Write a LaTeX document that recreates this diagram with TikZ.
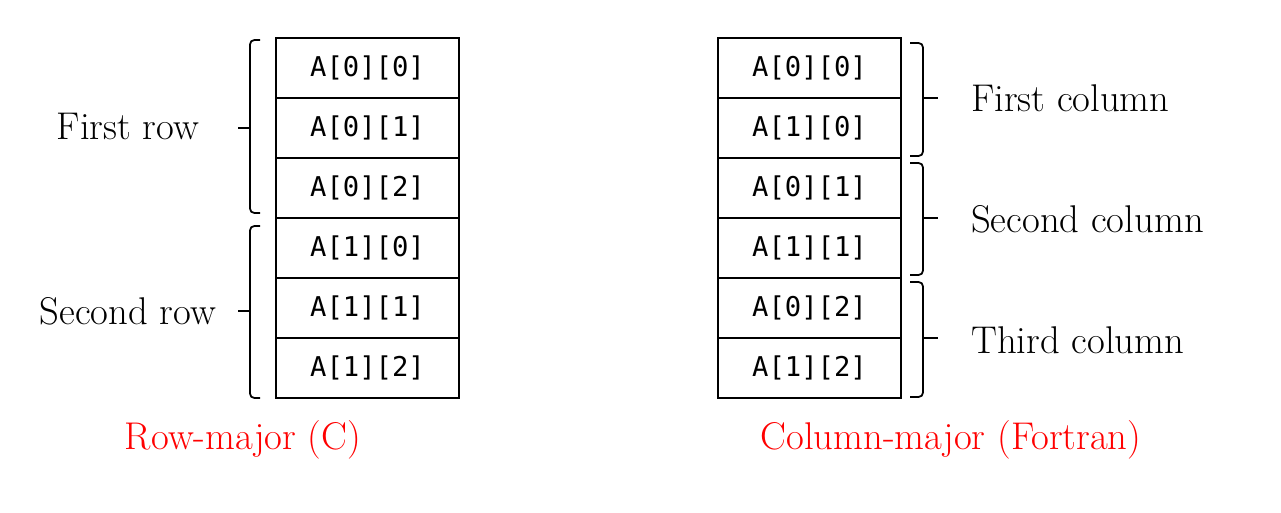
\documentclass[tikz,border=0pt]{standalone}
\usepackage{fontspec}
\newfontfamily\cellfont{DejaVu Sans Mono}
\usetikzlibrary{positioning}

\begin{document}
\begin{tikzpicture}[node distance=0pt,
  cell/.style={draw, line width=1pt, outer sep=0pt, inner sep=0pt, minimum width=3.66cm, minimum height=1.2cm, font=\fontsize{15.5}{18}\selectfont\cellfont},
  lbl/.style={font=\fontsize{22}{26}\selectfont},
  captxt/.style={lbl, text=red},
  brk/.style={draw, line width=1pt, rounded corners=2.5pt}]
\useasboundingbox (0,0) rectangle (25.62,10.24);
% row-major
\node[cell] (r00) at (7.35,8.88) {A[0][0]};
\node[cell, below=of r00] (r01) {A[0][1]};
\node[cell, below=of r01] (r02) {A[0][2]};
\node[cell, below=of r02] (r10) {A[1][0]};
\node[cell, below=of r10] (r11) {A[1][1]};
\node[cell, below=of r11] (r12) {A[1][2]};
\draw[brk] ([xshift=-0.32cm, yshift=-0.04cm]r00.north west) -- ([xshift=-0.52cm, yshift=-0.04cm]r00.north west)
  -- ([xshift=-0.52cm, yshift=0.1cm]r02.south west) -- ([xshift=-0.32cm, yshift=0.1cm]r02.south west);
\draw[brk] ([xshift=-0.52cm]r01.west) -- ([xshift=-0.76cm]r01.west);
\draw[brk] ([xshift=-0.32cm, yshift=-0.16cm]r10.north west) -- ([xshift=-0.52cm, yshift=-0.16cm]r10.north west)
  -- ([xshift=-0.52cm]r12.south west) -- ([xshift=-0.32cm]r12.south west);
\draw[brk] ([xshift=-0.52cm, yshift=-0.06cm]r11.west) -- ([xshift=-0.76cm, yshift=-0.06cm]r11.west);
\node[lbl] (frow) at (2.56,7.72) {First row};
\node[lbl] (srow) at (2.56,4.02) {Second row};
\node[captxt] (rmaj) at (4.86,1.44) {Row-major (C)};
% column-major
\node[cell] (c00) at (16.19,8.88) {A[0][0]};
\node[cell, below=of c00] (c10) {A[1][0]};
\node[cell, below=of c10] (c01) {A[0][1]};
\node[cell, below=of c01] (c11) {A[1][1]};
\node[cell, below=of c11] (c02) {A[0][2]};
\node[cell, below=of c02] (c12) {A[1][2]};
\draw[brk] ([xshift=0.18cm, yshift=-0.1cm]c00.north east) -- ([xshift=0.44cm, yshift=-0.1cm]c00.north east)
  -- ([xshift=0.44cm, yshift=0.04cm]c10.south east) -- ([xshift=0.18cm, yshift=0.04cm]c10.south east);
\draw[brk] ([xshift=0.44cm]c00.south east) -- ([xshift=0.74cm]c00.south east);
\draw[brk] ([xshift=0.18cm, yshift=-0.1cm]c01.north east) -- ([xshift=0.44cm, yshift=-0.1cm]c01.north east)
  -- ([xshift=0.44cm, yshift=0.06cm]c11.south east) -- ([xshift=0.18cm, yshift=0.06cm]c11.south east);
\draw[brk] ([xshift=0.44cm]c01.south east) -- ([xshift=0.74cm]c01.south east);
\draw[brk] ([xshift=0.18cm, yshift=-0.08cm]c02.north east) -- ([xshift=0.44cm, yshift=-0.08cm]c02.north east)
  -- ([xshift=0.44cm, yshift=0.02cm]c12.south east) -- ([xshift=0.18cm, yshift=0.02cm]c12.south east);
\draw[brk] ([xshift=0.44cm]c02.south east) -- ([xshift=0.74cm]c02.south east);
\node[lbl, anchor=west] (fcol) at (19.3,8.28) {First column};
\node[lbl, anchor=west] (scol) at (19.3,5.86) {Second column};
\node[lbl, anchor=west] (tcol) at (19.3,3.44) {Third column};
\node[captxt] (cmaj) at (19.02,1.44) {Column-major (Fortran)};
\end{tikzpicture}
\end{document}
